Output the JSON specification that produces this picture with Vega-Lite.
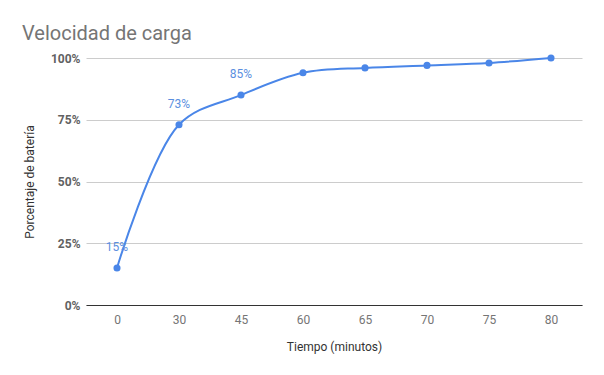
{
  "$schema": "https://vega.github.io/schema/vega-lite/v6.json",
  "autosize": {"type": "none"},
  "padding": {"left": 86, "top": 58, "right": 22, "bottom": 70},
  "width": 496,
  "height": 247,
  "background": "white",
  "title": {
    "text": "Velocidad de carga",
    "anchor": "start",
    "frame": "group",
    "dx": -64,
    "dy": 33,
    "offset": 20,
    "font": "Roboto",
    "fontSize": 20,
    "fontWeight": "normal",
    "color": "#757575"
  },
  "config": {
    "view": {"stroke": null},
    "font": "Roboto"
  },
  "data": {
    "values": [
      {"t": "0", "p": 0.15, "lbl": "15%"},
      {"t": "30", "p": 0.73, "lbl": "73%"},
      {"t": "45", "p": 0.85, "lbl": "85%"},
      {"t": "60", "p": 0.94, "lbl": ""},
      {"t": "65", "p": 0.96, "lbl": ""},
      {"t": "70", "p": 0.97, "lbl": ""},
      {"t": "75", "p": 0.98, "lbl": ""},
      {"t": "80", "p": 1.0, "lbl": ""}
    ]
  },
  "encoding": {
    "x": {
      "field": "t",
      "type": "ordinal",
      "sort": null,
      "scale": {"type": "point", "padding": 0.5},
      "axis": {
        "title": "Tiempo (minutos)",
        "labelAngle": 0,
        "ticks": false,
        "domainColor": "#333333",
        "domainWidth": 1,
        "labelColor": "#757575",
        "labelFont": "Roboto",
        "labelFontSize": 12,
        "labelPadding": 9,
        "titleFont": "Roboto",
        "titleFontSize": 12,
        "titleFontWeight": "normal",
        "titleColor": "#333333",
        "titlePadding": 16
      }
    },
    "y": {
      "field": "p",
      "type": "quantitative",
      "scale": {"domain": [0, 1]},
      "axis": {
        "title": "Porcentaje de batería",
        "format": ".0%",
        "values": [0, 0.25, 0.5, 0.75, 1],
        "ticks": false,
        "domain": false,
        "gridColor": "#cccccc",
        "labelColor": "#616161",
        "labelFont": "Roboto",
        "labelFontSize": 12,
        "labelFontWeight": "bold",
        "labelPadding": 6,
        "titleFont": "Roboto",
        "titleFontSize": 12,
        "titleFontWeight": "normal",
        "titleColor": "#333333",
        "titlePadding": 14
      }
    }
  },
  "layer": [
    {
      "mark": {"type": "line", "interpolate": "catmull-rom", "color": "#4a86e8", "strokeWidth": 2}
    },
    {
      "mark": {"type": "point", "filled": true, "opacity": 1, "color": "#4a86e8", "size": 50}
    },
    {
      "mark": {"type": "text", "dy": -21, "color": "#5b8fe0", "fontSize": 12, "font": "Roboto"},
      "encoding": {"text": {"field": "lbl"}}
    }
  ]
}
